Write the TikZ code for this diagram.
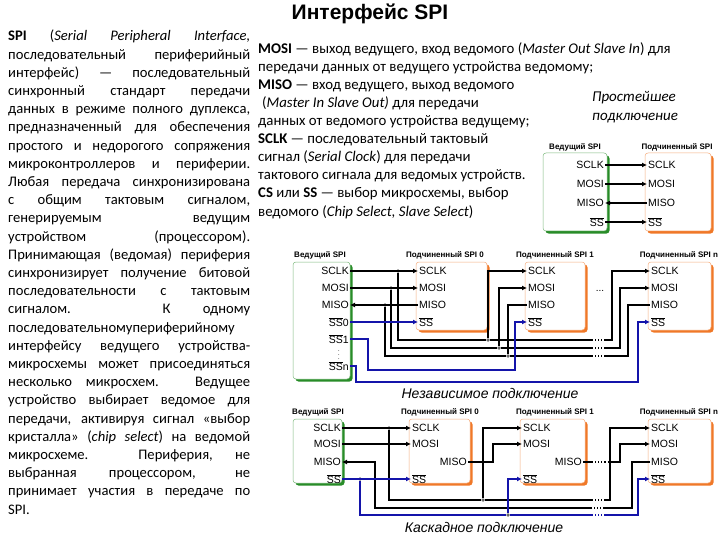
\documentclass[tikz,border=0pt]{standalone}
\usepackage{fontspec}
\setmainfont{Carlito}
\newfontfamily\dg{Liberation Sans}
\usetikzlibrary{arrows.meta}
\definecolor{mgreen}{RGB}{40,140,40}
\definecolor{sorange}{RGB}{240,120,40}
\definecolor{sblue}{RGB}{20,20,170}
\newcommand\chipbox[5]{%
 \fill[#5,rounded corners=3pt] (#1+2.5,#2+2.5) rectangle (#3+2.5,#4+2.5);
 \draw[#5!60,fill=white,rounded corners=3pt,line width=0.5pt] (#1,#2) rectangle (#3,#4);}
\newcommand\SSbar[1]{$\overline{\hbox{SS}}$#1}
\tikzset{
 pl/.style={font=\dg\fontsize{10.5}{11}\selectfont,inner sep=1pt},
 hd/.style={font=\dg\bfseries\fontsize{8}{9}\selectfont,inner sep=0pt},
 w/.style={line width=1.1pt},
 bw/.style={line width=1.1pt,sblue},
 ar/.style={-{Latex[length=5pt,width=5pt]}},
 jd/.style={circle,fill=gray,draw=black,line width=0.3pt,inner sep=0pt,minimum size=3pt},
 dd/.style={dotted,line width=1.1pt},
 tl/.style={anchor=base west,inner sep=0pt,font=\fontsize{14.8}{17}\selectfont},
 captext/.style={font=\dg\itshape\fontsize{14}{16}\selectfont},
}
\begin{document}
\begin{tikzpicture}[x=1pt,y=-1pt]
\useasboundingbox[fill=white] (0,0) rectangle (720,540);
\node[font=\dg\bfseries\fontsize{21}{24}\selectfont] (title) at (370,14) {Интерфейс SPI};
% left paragraph
\node[anchor=north west,inner sep=0pt,text width=242pt,align=justify,font=\fontsize{14.6}{18.2}\selectfont] (para) at (8,30) {%
\textbf{SPI} (\textit{Serial Peripheral Interface,}\linebreak
последовательный периферийный\linebreak
интерфейс) — последовательный\linebreak
синхронный стандарт передачи\linebreak
данных в режиме полного дуплекса,\linebreak
предназначенный для обеспечения\linebreak
простого и недорогого сопряжения\linebreak
микроконтроллеров и периферии.\linebreak
Любая передача синхронизирована\linebreak
с общим тактовым сигналом,\linebreak
генерируемым ведущим\linebreak
устройством (процессором).\linebreak
Принимающая (ведомая) периферия\linebreak
синхронизирует получение битовой\linebreak
последовательности с тактовым\linebreak
сигналом. К одному\linebreak
последовательномупериферийному\linebreak
интерфейсу ведущего устройства-\linebreak
микросхемы может присоединяться\linebreak
несколько микросхем. Ведущее\linebreak
устройство выбирает ведомое для\linebreak
передачи, активируя сигнал «выбор\linebreak
кристалла» (\textit{chip select}) на ведомой\linebreak
микросхеме. Периферия, не\linebreak
выбранная процессором, не\linebreak
принимает участия в передаче по SPI.};
% middle text
\node[tl] (m1) at (258,54) {\textbf{MOSI} — выход ведущего, вход ведомого (\textit{Master Out Slave In}) для};
\node[tl] (m2) at (258,72) {передачи данных от ведущего устройства ведомому;};
\node[tl] (m3) at (258,90) {\textbf{MISO} — вход ведущего, выход ведомого};
\node[tl] (m4) at (262,108) {(\textit{Master In Slave Out)} для передачи};
\node[tl] (m5) at (258,126) {данных от ведомого устройства ведущему;};
\node[tl] (m6) at (258,144) {\textbf{SCLK} — последовательный тактовый};
\node[tl] (m7) at (258,162) {сигнал (\textit{Serial Clock}) для передачи};
\node[tl] (m8) at (258,180) {тактового сигнала для ведомых устройств.};
\node[tl] (m9) at (258,198) {\textbf{CS} или \textbf{SS} — выбор микросхемы, выбор};
\node[tl] (m10) at (258,216) {ведомого (\textit{Chip Select, Slave Select})};
\node[tl,font=\itshape\fontsize{15}{17}\selectfont] (p1) at (592,102) {Простейшее};
\node[tl,font=\itshape\fontsize{15}{17}\selectfont] (p2) at (592,121) {подключение};

% ===== simple diagram
\node[hd] (h1) at (575,147) {Ведущий SPI};
\node[hd] (h2) at (677,147) {Подчиненный SPI};
\chipbox{543}{153}{607}{231}{mgreen}
\chipbox{645}{153}{711}{231}{sorange}
\foreach \t/\y/\n in {SCLK/165/a,MOSI/184/b,MISO/203/c}{
 \node[pl,anchor=east] (sm\n) at (605,\y) {\t};
 \node[pl,anchor=west] (ss\n) at (647,\y) {\t};}
\node[pl,anchor=east] (smd) at (605,222) {\SSbar{}};
\node[pl,anchor=west] (ssd) at (647,222) {\SSbar{}};
\draw[w,ar] (sma.east) -- (ssa.west);
\draw[w,ar] (smb.east) -- (ssb.west);
\draw[w,ar] (ssc.west) -- (smc.east);
\draw[w,ar] (smd.east) -- (ssd.west);

% ===== independent
\node[hd] (ih0) at (320,255) {Ведущий SPI};
\node[hd] (ih1) at (445,255) {Подчиненный SPI 0};
\node[hd] (ih2) at (555,255) {Подчиненный SPI 1};
\node[hd] (ih3) at (679,255) {Подчиненный SPI n};
\chipbox{293}{262}{350}{379}{mgreen}
\chipbox{416}{262}{487}{330}{sorange}
\chipbox{525}{262}{585}{330}{sorange}
\chipbox{648}{262}{711}{330}{sorange}
\node[pl,anchor=east] (ima) at (350,271) {SCLK};
\node[pl,anchor=east] (imb) at (350,288) {MOSI};
\node[pl,anchor=east] (imc) at (350,305) {MISO};
\node[pl,anchor=east] (im0) at (350,322) {\SSbar{0}};
\node[pl,anchor=east] (im1) at (350,339) {\SSbar{1}};
\node[pl,anchor=east] (imn) at (350,366) {\SSbar{n}};
\node[font=\fontsize{6}{6}\selectfont,inner sep=0pt] (ivd) at (339,352.5) {$\vdots$};
\foreach \s/\x in {0/418,1/527,n/650}{
 \node[pl,anchor=west] (i\s a) at (\x,271) {SCLK};
 \node[pl,anchor=west] (i\s b) at (\x,288) {MOSI};
 \node[pl,anchor=west] (i\s c) at (\x,305) {MISO};
 \node[pl,anchor=west] (i\s d) at (\x,322) {\SSbar{}};}
\node[font=\dg\fontsize{10}{10}\selectfont] (idots) at (600,291) {...};
\node[jd] (ja) at (398,271) {};
\node[jd] (jb) at (391,288) {};
\node[jd] (jc) at (385,305) {};
\node[jd] (k1a) at (488,340) {};
\node[jd] (k1b) at (499,348) {};
\node[jd] (k1c) at (508,356) {};
\draw[w,ar] (ima.east) -- (i0a.west);
\draw[w,ar] (imb.east) -- (i0b.west);
\draw[w,ar] (i0c.west) -- (imc.east);
\draw[w] (ja) -- (398,340) -- (k1a) -- (592,340);
\draw[w] (jb) -- (391,348) -- (k1b) -- (592,348);
\draw[w] (jc) -- (385,356) -- (k1c) -- (592,356);
\draw[w,ar] (k1a) -- (488,271) -- (i1a.west);
\draw[w,ar] (k1b) -- (499,288) -- (i1b.west);
\draw[w] (k1c) -- (508,305) -- (i1c.west);
\foreach \y in {340,348,356} \draw[dd] (592,\y) -- (604,\y);
\draw[w,ar] (604,340) -- (612,340) -- (612,271) -- (ina.west);
\draw[w,ar] (604,348) -- (620,348) -- (620,288) -- (inb.west);
\draw[w] (604,356) -- (628,356) -- (628,305) -- (inc.west);
\draw[bw,ar] (im0.east) -- (i0d.west);
\draw[bw,ar] (im1.east) -- (368,339) -- (368,370) -- (515,370) -- (515,322) -- (i1d.west);
\draw[bw,ar] (imn.east) -- (356,366) -- (356,382) -- (638,382) -- (638,322) -- (ind.west);
\node[captext] (icap) at (490,393) {Независимое подключение};

% ===== cascade
\node[hd] (ch0) at (318,412) {Ведущий SPI};
\node[hd] (ch1) at (440,412) {Подчиненный SPI 0};
\node[hd] (ch2) at (555,412) {Подчиненный SPI 1};
\node[hd] (ch3) at (679,412) {Подчиненный SPI n};
\chipbox{293}{419}{342}{483}{mgreen}
\chipbox{409}{419}{470}{483}{sorange}
\chipbox{520}{419}{585}{483}{sorange}
\chipbox{648}{419}{711}{483}{sorange}
\node[pl,anchor=east] (cma) at (342,428) {SCLK};
\node[pl,anchor=east] (cmb) at (342,444) {MOSI};
\node[pl,anchor=east] (cmc) at (342,462) {MISO};
\node[pl,anchor=east] (cmd) at (342,479) {\SSbar{}};
\foreach \s/\x in {0/411,1/522,n/650}{
 \node[pl,anchor=west] (c\s a) at (\x,428) {SCLK};
 \node[pl,anchor=west] (c\s b) at (\x,444) {MOSI};
 \node[pl,anchor=west] (c\s d) at (\x,479) {\SSbar{}};}
\node[pl,anchor=east] (c0c) at (468,462) {MISO};
\node[pl,anchor=east] (c1c) at (583,462) {MISO};
\node[pl,anchor=west] (cnc) at (650,462) {MISO};
\node[jd] (qa) at (389,428) {};
\node[jd] (qd) at (360,479) {};
\node[jd] (r1a) at (483,500) {};
\node[jd] (r1d) at (508,515) {};
\draw[w,ar] (cma.east) -- (c0a.west);
\draw[w,ar] (cmb.east) -- (c0b.west);
\draw[w] (qa) -- (389,500) -- (r1a) -- (592,500);
\draw[w,ar] (r1a) -- (483,428) -- (c1a.west);
\draw[w,ar] (c0c.east) -- (493,462) -- (493,444) -- (c1b.west);
\draw[w] (c1c.east) -- (592,462);
\draw[dd] (592,462) -- (612,462);
\draw[w,ar] (612,462) -- (620,462) -- (620,444) -- (cnb.west);
\draw[dd] (592,500) -- (604,500);
\draw[w,ar] (604,500) -- (610,500) -- (610,428) -- (cna.west);
\draw[w] (cnc.west) -- (632,462) -- (632,508) -- (604,508);
\draw[dd] (604,508) -- (592,508);
\draw[w,ar] (592,508) -- (375,508) -- (375,462) -- (cmc.east);
\draw[bw,ar] (cmd.east) -- (c0d.west);
\draw[bw] (qd) -- (360,515) -- (r1d) -- (592,515);
\draw[bw,ar] (r1d) -- (508,479) -- (c1d.west);
\draw[dd,sblue] (592,515) -- (604,515);
\draw[bw,ar] (604,515) -- (638,515) -- (638,479) -- (cnd.west);
\node[captext] (ccap) at (484,527) {Каскадное подключение};
\end{tikzpicture}
\end{document}
